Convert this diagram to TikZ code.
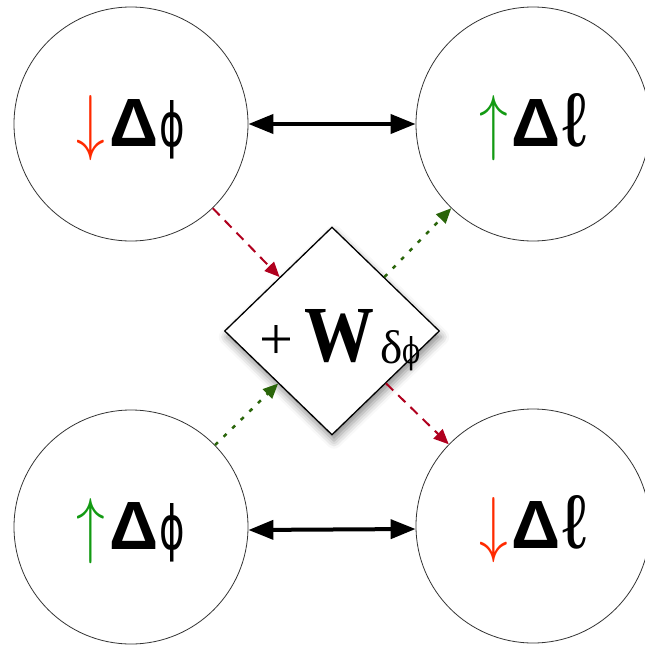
\documentclass[tikz,border=0pt]{standalone}
\usepackage{fontspec}
\usepackage{graphicx}
\setmainfont{Liberation Serif}
\newfontfamily\lsans{Liberation Sans}
\newfontfamily\dvsans{DejaVu Sans}
\newfontfamily\dvserif{DejaVu Serif}
\usetikzlibrary{shapes.geometric,arrows.meta,shadows.blur}
\definecolor{glyphred}{HTML}{FF2A00}
\definecolor{glyphgreen}{HTML}{139A13}
\definecolor{linkred}{HTML}{B0001E}
\definecolor{linkgreen}{HTML}{2A650A}
\definecolor{ringgray}{HTML}{333333}
\newcommand{\dnarr}{\textcolor{glyphred}{\scalebox{0.78}[1]{\resizebox{!}{51pt}{$\downarrow$}}}}
\newcommand{\uparr}{\textcolor{glyphgreen}{\scalebox{0.78}[1]{\resizebox{!}{51pt}{$\uparrow$}}}}
\newcommand{\bigDelta}{\resizebox{!}{47pt}{\lsans\bfseries Δ}}
\newcommand{\bigphi}{\scalebox{0.64}[1]{\resizebox{!}{46pt}{\dvsans ϕ}}}
\newcommand{\bigell}{\resizebox{!}{53pt}{\lsans ℓ}}
\tikzset{
  bubble/.style={circle, draw=ringgray, line width=0.8pt, minimum size=234pt, inner sep=0pt},
  bubbletext/.style={anchor=base, inner sep=0pt},
  both/.style={{Triangle[length=25pt,width=19pt]}-{Triangle[length=25pt,width=19pt]}, line width=4pt, black},
  redlink/.style={-{Triangle[length=15pt,width=13pt]}, linkred, line width=2pt, dash pattern=on 10pt off 7pt},
  greenlink/.style={-{Triangle[length=15pt,width=13pt]}, linkgreen, line width=2.5pt, dash pattern=on 4pt off 8pt},
  gate/.style={diamond, draw=black, line width=1.3pt, fill=white, minimum width=215pt, minimum height=208pt, inner sep=0pt,
    blur shadow={shadow xshift=2pt, shadow yshift=-6pt, shadow blur radius=8pt, shadow opacity=45}}
}
\begin{document}
\begin{tikzpicture}[x=1pt,y=-1pt]
\useasboundingbox (0,0) rectangle (645,648);
\node[bubble] (TL) at (131,124) {};
\node[bubble] (TR) at (533,124) {};
\node[bubble] (BL) at (131,527) {};
\node[bubble] (BR) at (533,526) {};
\node[bubbletext] (TLt) at ([yshift=-22pt]TL.center) {\dnarr\kern4pt\bigDelta\kern1pt\bigphi};
\node[bubbletext] (TRt) at ([yshift=-22pt]TR.center) {\uparr\kern4pt\bigDelta\kern1pt\bigell};
\node[bubbletext] (BLt) at ([yshift=-22pt]BL.center) {\uparr\kern4pt\bigDelta\kern1pt\bigphi};
\node[bubbletext] (BRt) at ([yshift=-22pt]BR.center) {\dnarr\kern4pt\bigDelta\kern1pt\bigell};
\draw[both] (TL.east) -- (TR.west);
\draw[both] ([yshift=-3pt]BL.east) -- ([yshift=-3pt]BR.west);
\node[gate] (D) at (332,331) {};
\node[anchor=base, inner sep=0pt] (Dt) at ([xshift=8pt,yshift=-30pt]D.center)
  {\raisebox{2pt}{\resizebox{!}{34pt}{+}}\kern11pt\scalebox{0.88}[1]{\resizebox{!}{52pt}{\bfseries W}}\kern6pt\raisebox{-2pt}{\resizebox{!}{33pt}{δ}\scalebox{0.75}[1]{\resizebox{!}{27pt}{\dvserif ϕ}}}};
\draw[redlink] (TL) -- (D);
\draw[redlink] (D) -- (BR);
\draw[greenlink] (BL) -- (D);
\draw[greenlink] (D) -- (TR);
\end{tikzpicture}
\end{document}
